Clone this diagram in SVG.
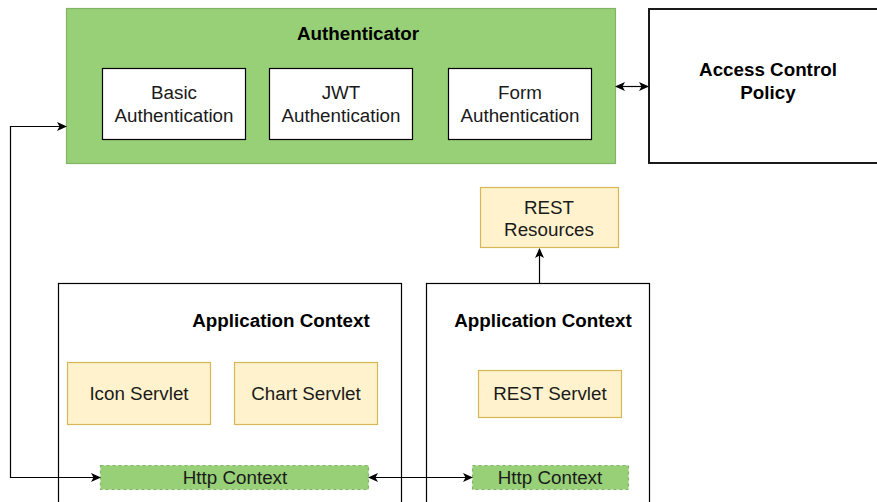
<svg xmlns="http://www.w3.org/2000/svg" width="877" height="502" viewBox="0 0 877 502">
<defs>
<marker id="ah" viewBox="0 0 10 10" refX="9" refY="5" markerWidth="10" markerHeight="10" markerUnits="userSpaceOnUse" orient="auto-start-reverse">
<path d="M0,0.5 L10,5 L0,9.5 L2.5,5 Z" fill="#000"/>
</marker>
<style>
text{font-family:"Liberation Sans",Arial,sans-serif;font-size:18.8px;fill:#1a1a1a;text-anchor:middle}
.b{font-weight:bold;fill:#000}
.white{fill:#fff;stroke:#000;stroke-width:1.2}
.yel{fill:#fff2cc;stroke:#d6b656;stroke-width:1.2}
.grn{fill:#97d077;stroke:#82b366;stroke-width:1.2}
.dash{fill:#97d077;stroke:#82b366;stroke-width:1.2;stroke-dasharray:3 3}
.con{fill:none;stroke:#000;stroke-width:1.2}
</style>
</defs>
<rect width="877" height="502" fill="#fff"/>
<g id="authenticator">
<rect class="grn" x="66.5" y="8.5" width="549" height="155"/>
<text class="b" x="358" y="40">Authenticator</text>
</g>
<g id="basic-auth">
<rect class="white" x="102.5" y="68.5" width="143" height="71"/>
<text x="174" y="99">Basic</text><text x="174" y="122">Authentication</text>
</g>
<g id="jwt-auth">
<rect class="white" x="269.5" y="68.5" width="143" height="71"/>
<text x="341" y="99">JWT</text><text x="341" y="122">Authentication</text>
</g>
<g id="form-auth">
<rect class="white" x="448.5" y="68.5" width="143" height="71"/>
<text x="520" y="99">Form</text><text x="520" y="122">Authentication</text>
</g>
<g id="access-control">
<rect x="649" y="9" width="240" height="154" fill="#fff" stroke="#1a1a1a" stroke-width="2"/>
<text class="b" x="768" y="76">Access Control</text><text class="b" x="768" y="99">Policy</text>
</g>
<g id="rest-resources">
<rect class="yel" x="480.5" y="187.5" width="138" height="60"/>
<text x="549" y="214">REST</text><text x="549" y="236">Resources</text>
</g>
<g id="app-context-1">
<rect class="white" x="58.5" y="283.5" width="343" height="240"/>
<text class="b" x="281" y="327">Application Context</text>
</g>
<g id="icon-servlet">
<rect class="yel" x="67.5" y="362.5" width="143" height="62"/>
<text x="139" y="400">Icon Servlet</text>
</g>
<g id="chart-servlet">
<rect class="yel" x="234.5" y="362.5" width="143" height="62"/>
<text x="306" y="400">Chart Servlet</text>
</g>
<g id="http-context-1">
<rect class="dash" x="100.5" y="465.5" width="268" height="24"/>
<text x="235" y="484">Http Context</text>
</g>
<g id="app-context-2">
<rect class="white" x="426.5" y="283.5" width="223" height="240"/>
<text class="b" x="543" y="327">Application Context</text>
</g>
<g id="rest-servlet">
<rect class="yel" x="478.5" y="370.5" width="143" height="47"/>
<text x="550" y="400">REST Servlet</text>
</g>
<g id="http-context-2">
<rect class="dash" x="472.5" y="465.5" width="156" height="24"/>
<text x="550" y="484">Http Context</text>
</g>
<g id="connectors">
<path class="con" d="M616,86.5 H648" marker-start="url(#ah)" marker-end="url(#ah)"/>
<path class="con" d="M539.5,283 V249" marker-end="url(#ah)"/>
<path class="con" d="M100,477.5 H10.5 V126.5 H66" marker-start="url(#ah)" marker-end="url(#ah)"/>
<path class="con" d="M369,477.5 H472" marker-start="url(#ah)" marker-end="url(#ah)"/>
</g>
</svg>
